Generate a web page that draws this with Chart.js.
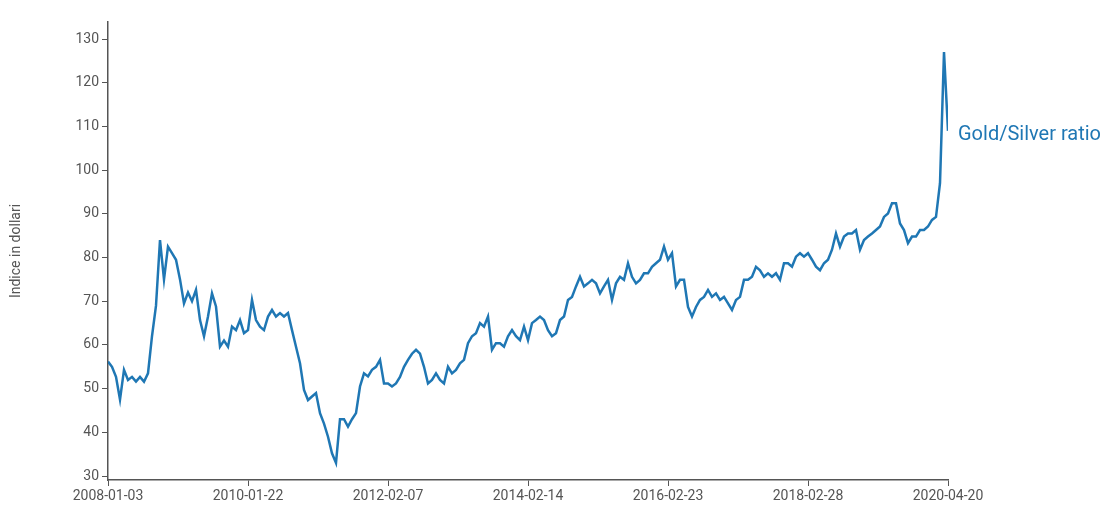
<!DOCTYPE html>
<html lang="en">
<head>
    <meta charset="UTF-8">
    <title>Gold/Silver ratio</title>
    <script src="https://cdn.jsdelivr.net/npm/chart.js@4"></script>
    <style>
        body { margin: 0; background: #fff; }
        #wrap { width: 1111px; height: 522px; }
    </style>
</head>
<body>
    <div id="wrap"><canvas id="myChart"></canvas></div>
    <script>
        // date labels shown on the x axis (evenly spaced by trading day)
        var tickDates = ['2008-01-03', '2010-01-22', '2012-02-07', '2014-02-14', '2016-02-23', '2018-02-28', '2020-04-20'];
        var stepsPerTick = 35;
        var yTicks = [30, 40, 50, 60, 70, 80, 90, 100, 110, 120, 130];
        var seriesName = 'Gold/Silver ratio';

        var ratio = [
            56.2, 55, 52.7, 47.5, 54.3, 52, 52.7, 51.6, 52.7, 51.6, 53.5, 62, 69, 84, 75, 82.5, 81, 79.5, 75, 69.5,
            72, 70, 72.6, 65.7, 62, 66.5, 71.8, 68.8, 59.6, 61, 59.6, 64.2, 63.4, 65.7, 62.7, 63.4, 70.3, 65.7, 64.2, 63.4,
            66.5, 68, 66.5, 67.3, 66.5, 67.3, 63.4, 59.6, 55.8, 49.7, 47.4, 48.2, 49, 44.4, 42, 39, 35.2, 33, 43, 43,
            41.3, 43, 44.4, 50.5, 53.5, 52.8, 54.3, 55, 56.6, 51.2, 51.2, 50.5, 51.2, 52.7, 55, 56.6, 58, 58.9, 58, 55,
            51.2, 52, 53.5, 52, 51.2, 55, 53.5, 54.3, 55.8, 56.6, 60.4, 62, 62.7, 65, 64.2, 66.5, 58.9, 60.4, 60.4, 59.6,
            62, 63.4, 62, 61.1, 64.2, 61.1, 65, 65.7, 66.5, 65.7, 63.4, 62, 62.7, 65.7, 66.5, 70.3, 71, 73.4, 75.6, 73.4,
            74.1, 74.9, 74.1, 71.8, 73.4, 74.9, 70.3, 74.1, 75.6, 74.9, 78.7, 75.6, 74.1, 74.9, 76.4, 76.4, 77.9, 78.7, 79.5, 82.5,
            79.5, 81, 73.4, 74.9, 74.9, 68.7, 66.5, 68.7, 70.3, 71, 72.6, 71, 71.8, 70.3, 71, 69.5, 68, 70.3, 71, 74.9,
            74.9, 75.6, 77.9, 77.1, 75.6, 76.4, 75.6, 76.4, 74.9, 78.7, 78.7, 77.9, 80.2, 81, 80.2, 81, 79.5, 77.9, 77.1, 78.7,
            79.5, 81.8, 85.5, 82.5, 84.8, 85.5, 85.5, 86.3, 81.8, 84, 84.8, 85.5, 86.3, 87.1, 89.3, 90.1, 92.4, 92.4, 87.8, 86.3,
            83.3, 84.8, 84.8, 86.3, 86.3, 87.1, 88.6, 89.3, 97, 127, 109
        ];

        var points = ratio.map(function (v, i) { return { x: i, y: v }; });
        var lineColor = '#1f77b4';
        var axisColor = '#555';

        var endLabel = {
            id: 'endLabel',
            afterDatasetsDraw: function (chart) {
                var ctx = chart.ctx;
                var xs = chart.scales.x, ys = chart.scales.y;
                ctx.save();
                ctx.fillStyle = lineColor;
                ctx.font = '20px Roboto';
                ctx.textBaseline = 'middle';
                ctx.fillText(seriesName, xs.getPixelForValue(ratio.length - 1) + 10, ys.getPixelForValue(108));
                ctx.restore();
            }
        };

        var ctx = document.getElementById('myChart').getContext('2d');
        new Chart(ctx, {
            type: 'line',
            data: {
                datasets: [{
                    label: seriesName,
                    data: points,
                    borderColor: lineColor,
                    borderWidth: 2.5,
                    pointRadius: 0,
                    fill: false,
                    tension: 0
                }]
            },
            options: {
                responsive: true,
                maintainAspectRatio: false,
                animation: false,
                layout: { padding: { top: 22, right: 163, left: 8, bottom: 0 } },
                plugins: { legend: { display: false }, tooltip: { enabled: false } },
                scales: {
                    x: {
                        type: 'linear',
                        min: 0,
                        max: (tickDates.length - 1) * stepsPerTick,
                        afterBuildTicks: function (axis) {
                            axis.ticks = tickDates.map(function (d, i) { return { value: i * stepsPerTick }; });
                        },
                        afterFit: function (axis) { axis.height = 42; },
                        ticks: {
                            color: axisColor,
                            font: { family: 'Roboto', size: 14 },
                            maxRotation: 0,
                            autoSkip: false,
                            padding: 2,
                            callback: function (v) { return tickDates[Math.round(v / stepsPerTick)]; }
                        },
                        grid: { drawOnChartArea: false, drawTicks: true, tickLength: 6, color: axisColor },
                        border: { color: axisColor, width: 1.5 }
                    },
                    y: {
                        min: 29.1,
                        max: 133.9,
                        afterBuildTicks: function (axis) {
                            axis.ticks = yTicks.map(function (v) { return { value: v }; });
                        },
                        afterFit: function (axis) { axis.width = 100; },
                        ticks: {
                            color: axisColor,
                            font: { family: 'Roboto', size: 14 },
                            padding: 3
                        },
                        grid: { drawOnChartArea: false, drawTicks: true, tickLength: 6, color: axisColor },
                        border: { color: axisColor, width: 1.5 },
                        title: {
                            display: true,
                            text: 'Indice in dollari',
                            color: axisColor,
                            font: { family: 'Roboto', size: 14 },
                            padding: { top: 0, bottom: 40 }
                        }
                    }
                }
            },
            plugins: [endLabel]
        });
    </script>
</body>
</html>
